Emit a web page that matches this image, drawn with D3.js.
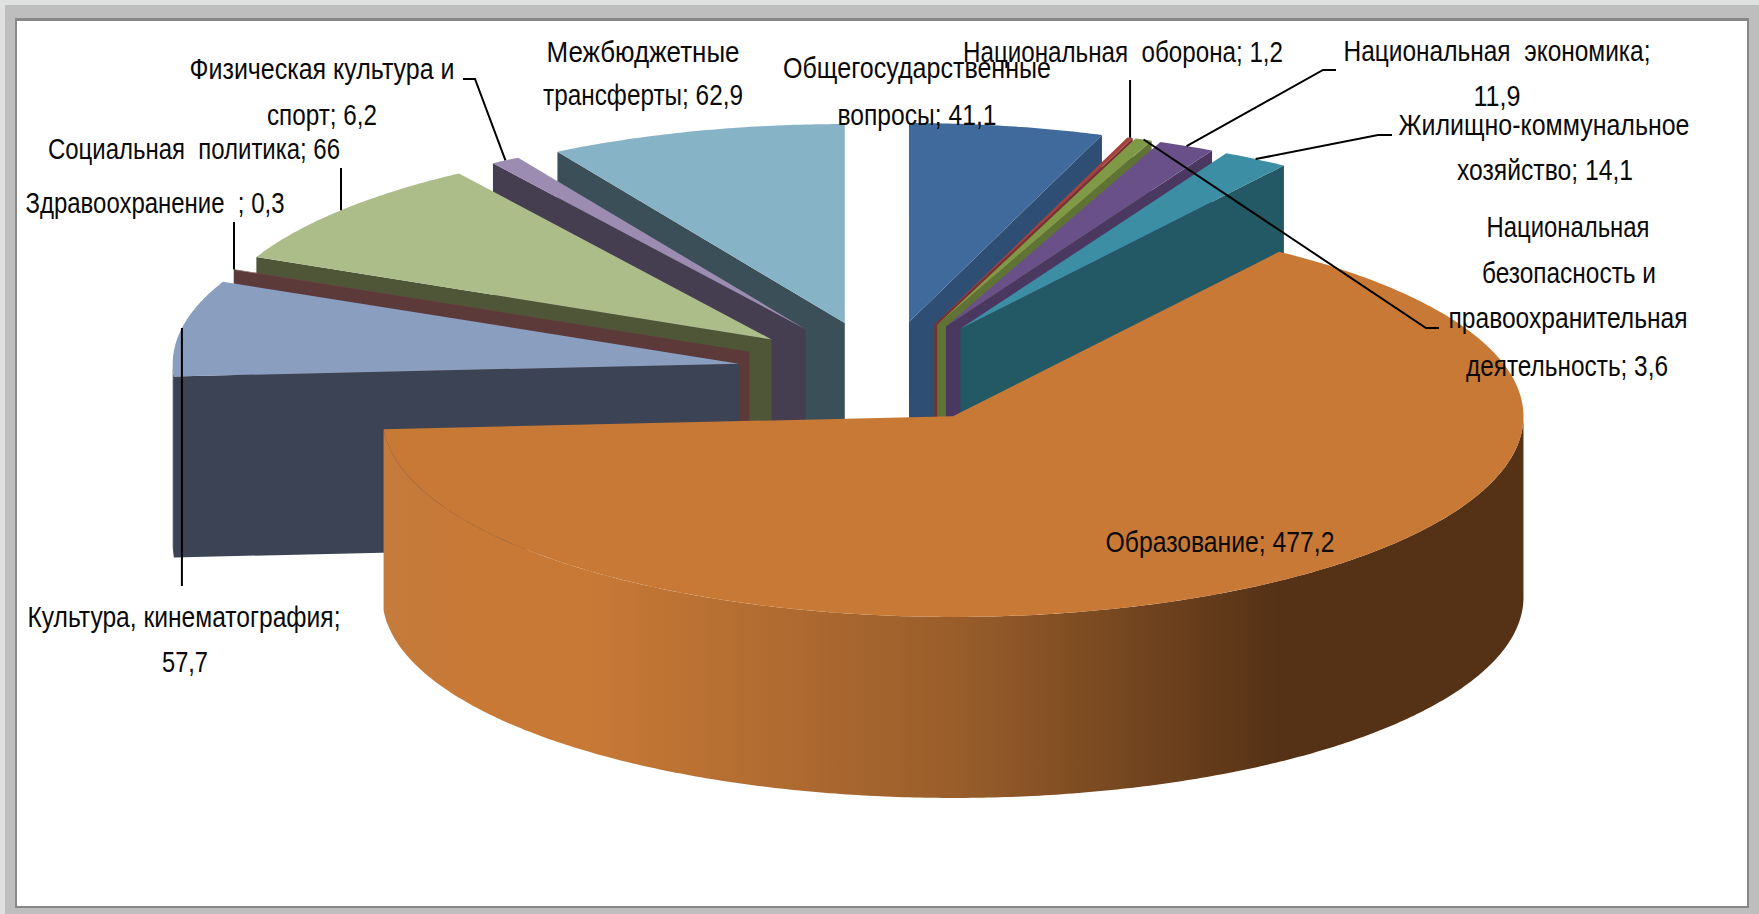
<!DOCTYPE html>
<html>
  <head>
    <meta charset="UTF-8" />
    <title>Расходы бюджета</title>
    <style>
      html, body { margin: 0; padding: 0; background: #fff; overflow: hidden; }
      svg { display: block; }
      text { font-family: "Liberation Sans Narrow", "Liberation Sans", sans-serif; font-size: 29px; fill: #0a0a0a; }
    </style>
  </head>
  <body>
    <svg id="chart" width="1759" height="914"></svg>
    <script src="https://cdnjs.cloudflare.com/ajax/libs/d3/7.8.5/d3.min.js"></script>
    <script>
// values in pie order, clockwise from 12 o'clock
const categories = ['Общегосударственные вопросы', 'Национальная оборона', 'Национальная безопасность и правоохранительная деятельность',
  'Национальная экономика', 'Жилищно-коммунальное хозяйство', 'Образование', 'Культура, кинематография', 'Здравоохранение',
  'Социальная политика', 'Физическая культура и спорт', 'Межбюджетные трансферты'];
const values = [41.1, 1.2, 3.6, 11.9, 14.1, 477.2, 57.7, 0.3, 66, 6.2, 62.9];

const topColors = ['#3F6A9B', '#A5413E', '#7F9A47', '#6A5088', '#3C8EA5', '#C87936', '#8A9EC0', '#6B4444', '#ADBD8A', '#9C8CB2', '#86B3C6'];
const wallColors = ['#2E4E74', '#7A302E', '#5F7335', '#4A3860', '#235865', '#C87936', '#3B4355', '#5C3A3A', '#4F5638', '#443E50', '#3A4F58'];

const orangeStops = [[0, '#C47B3C'], [0.07, '#C87936'], [0.18, '#C87936'], [0.5, '#9A5E2B'], [0.785, '#553216'], [1, '#553216']];

// label lines: text, centre x, baseline y, width on screen
const labelLines = [
  ['Общегосударственные', 917, 78, 268], ['вопросы; 41,1', 917, 125, 159],
  ['Национальная  оборона; 1,2', 1123, 62, 320],
  ['Национальная  экономика;', 1497, 61, 307], ['11,9', 1497, 106, 47],
  ['Жилищно-коммунальное', 1544, 135, 291], ['хозяйство; 14,1', 1545, 180, 176],
  ['Национальная', 1568, 237, 163], ['безопасность и', 1569, 283, 174],
  ['правоохранительная', 1568, 328, 239], ['деятельность; 3,6', 1567, 376, 202],
  ['Образование; 477,2', 1220, 552, 229],
  ['Культура, кинематография;', 184, 627, 313], ['57,7', 185, 672, 46],
  ['Здравоохранение  ; 0,3', 155, 213, 259],
  ['Социальная  политика; 66', 194, 159, 292],
  ['Физическая культура и', 322, 79, 265], ['спорт; 6,2', 322, 125, 110],
  ['Межбюджетные', 643, 62, 193], ['трансферты; 62,9', 643, 105, 200]
];

// leader start (label side) per slice index; null = no leader
const leaderStarts = [null, [[1105, 80]], [[1439, 328], [1426, 328]], [[1336, 70], [1323, 70]], [[1392, 135], [1378, 135]],
  null, [[181, 586]], [[234, 222]], [[342, 168]], [[463, 79], [475, 79]], null];

const width = 1759, height = 914;
const cx = 883.5, cy = 373, rx = 566, ry = 199, depth = 181;
const explode = 0.26, explodeBig = 0.25, radiusBig = 1.008, bigIndex = 5;

const x = d3.scaleLinear().domain([-1, 1]).range([cx - rx, cx + rx]);
const y = d3.scaleLinear().domain([-1, 1]).range([cy - ry, cy + ry]);

const slices = d3.pie().sort(null).startAngle(0).endAngle(2 * Math.PI)(values);
slices.forEach(s => {
  const e = s.index === bigIndex ? explodeBig : explode;
  const mid = (s.startAngle + s.endAngle) / 2;
  s.mid = mid;
  s.r = s.index === bigIndex ? radiusBig : 1;
  s.ox = e * Math.sin(mid);
  s.oy = -e * Math.cos(mid);
});

const apex = s => [x(s.ox), y(s.oy)];
const rimPoint = (s, a) => [x(s.ox + s.r * Math.sin(a)), y(s.oy - s.r * Math.cos(a))];
const down = p => [p[0], p[1] + depth];
const line = d3.line();

function rimPoints(s, a0, a1) {
  const n = Math.max(2, Math.ceil((a1 - a0) / 0.01));
  return d3.range(n + 1).map(i => rimPoint(s, a0 + (a1 - a0) * i / n));
}

const svg = d3.select('#chart');

// picture frame
svg.append('rect').attr('width', width).attr('height', height).attr('fill', '#DFE1E1');
svg.append('rect').attr('x', 5).attr('y', 5).attr('width', width - 5).attr('height', height - 5).attr('fill', '#BEBEBE');
svg.append('rect').attr('x', 15).attr('y', 18).attr('width', 1734).attr('height', 890).attr('fill', '#888');
svg.append('rect').attr('x', 17).attr('y', 21).attr('width', 1730).attr('height', 885).attr('fill', '#fff');

const grad = svg.append('defs').append('linearGradient').attr('id', 'orangeSide')
  .attr('gradientUnits', 'userSpaceOnUse').attr('x1', 382).attr('x2', 1523).attr('y1', 0).attr('y2', 0);
grad.selectAll('stop').data(orangeStops).join('stop')
  .attr('offset', d => d[0]).attr('stop-color', d => d[1]);

// painter's order: right hand slices, left hand slices from the back, big slice last
const order = [0, 1, 2, 3, 4, 10, 9, 8, 7, 6, 5].map(i => slices[i]);

const g = svg.append('g').selectAll('g').data(order).join('g');

// flat side facing the viewer
g.filter(s => s.index !== bigIndex).append('path')
  .attr('fill', s => wallColors[s.index])
  .attr('d', s => {
    const a = s.mid < Math.PI ? s.endAngle : s.startAngle;
    const p = apex(s), q = rimPoint(s, a);
    return line([p, q, down(q), down(p)]) + 'Z';
  });

// curved outer side, only the front half of the circle shows
g.filter(s => s.endAngle > Math.PI / 2 && s.startAngle < 3 * Math.PI / 2).append('path')
  .attr('fill', s => s.index === bigIndex ? 'url(#orangeSide)' : wallColors[s.index])
  .attr('d', s => {
    const pts = rimPoints(s, Math.max(s.startAngle, Math.PI / 2), Math.min(s.endAngle, 3 * Math.PI / 2));
    return line(pts.concat(pts.map(down).reverse())) + 'Z';
  });

// top faces
g.append('path')
  .attr('fill', s => topColors[s.index])
  .attr('d', s => line([apex(s)].concat(rimPoints(s, s.startAngle, s.endAngle))) + 'Z');

// leaders end on the rim at the middle of the slice
svg.append('g').selectAll('path').data(slices.filter(s => leaderStarts[s.index])).join('path')
  .attr('fill', 'none').attr('stroke', '#000').attr('stroke-width', 2)
  .attr('d', s => {
    const end = rimPoint(s, s.mid);
    const start = leaderStarts[s.index];
    // single start point means a straight vertical leader
    return line(start.length === 1 ? [[end[0], start[0][1]], end] : start.concat([end]));
  });

svg.append('g').selectAll('text').data(labelLines).join('text')
  .attr('x', d => d[1]).attr('y', d => d[2])
  .attr('text-anchor', 'middle')
  .attr('textLength', d => d[3]).attr('lengthAdjust', 'spacingAndGlyphs')
  .attr('xml:space', 'preserve')
  .text(d => d[0]);
    </script>
  </body>
</html>
